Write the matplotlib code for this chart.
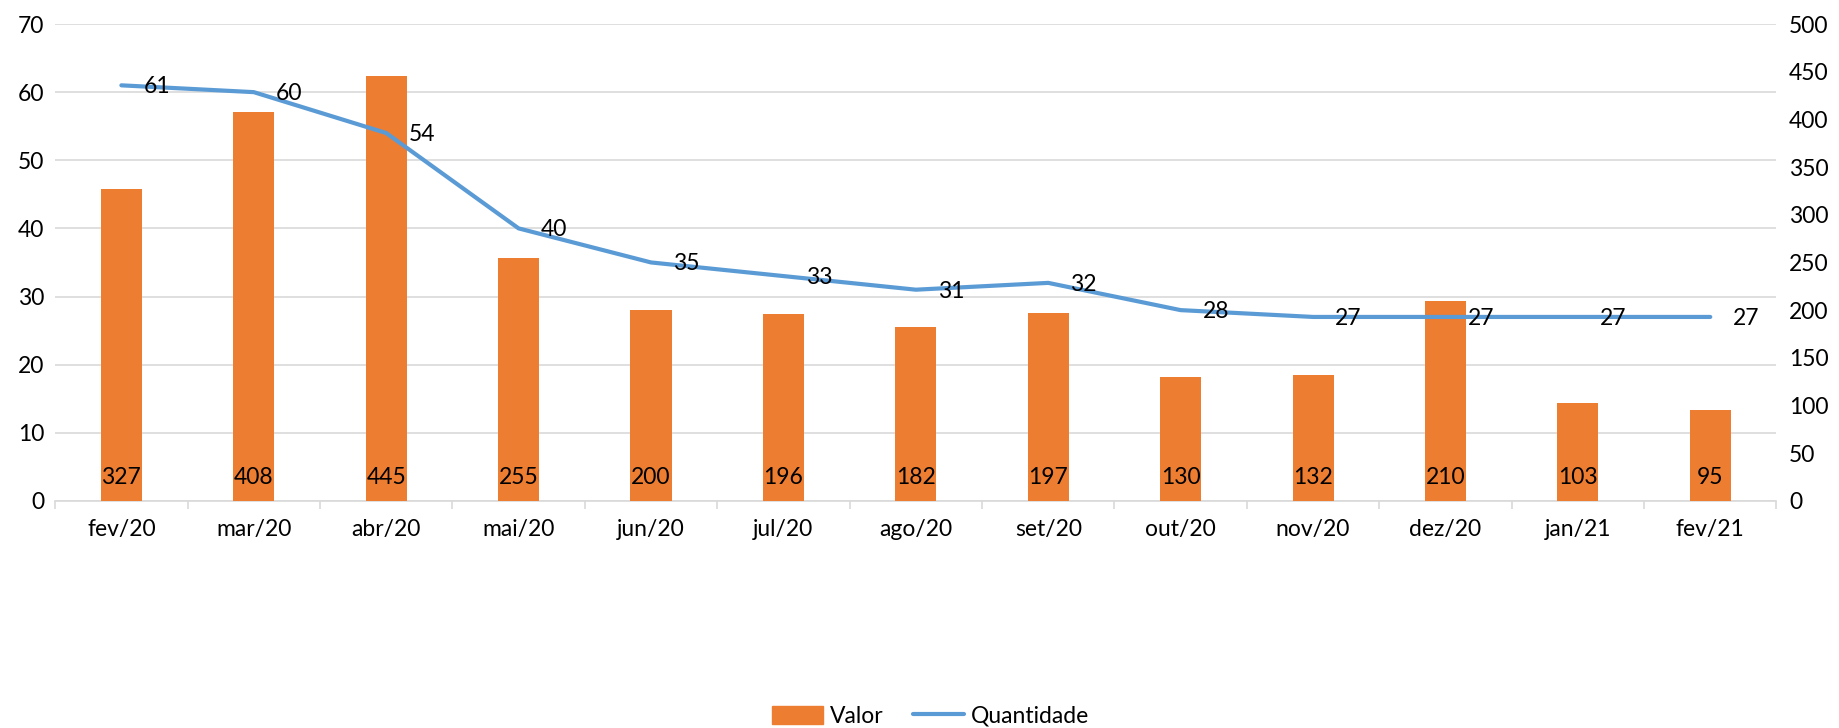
import numpy as np
import matplotlib
matplotlib.use("Agg")
import matplotlib.pyplot as plt
from matplotlib.patches import Patch
from matplotlib.lines import Line2D

plt.rcParams['font.family'] = ['Lato', 'DejaVu Sans']
plt.rcParams['font.size'] = 16.5

# dados
meses = ["fev/20", "mar/20", "abr/20", "mai/20", "jun/20", "jul/20", "ago/20",
         "set/20", "out/20", "nov/20", "dez/20", "jan/21", "fev/21"]
valor = [327, 408, 445, 255, 200, 196, 182, 197, 130, 132, 210, 103, 95]
quantidade = [61, 60, 54, 40, 35, 33, 31, 32, 28, 27, 27, 27, 27]

COR_BARRA = "#ED7D31"
COR_LINHA = "#5B9BD5"
COR_GRADE = "#D9D9D9"

fig = plt.figure(figsize=(18.39, 7.28), dpi=100)
ax = fig.add_axes([0.030, 0.312, 0.936, 0.655])
x = np.arange(len(meses))

# eixo esquerdo: grade + rótulos 0-70
ax.set_ylim(0, 70)
ax.set_yticks(range(0, 71, 10))
ax.set_xlim(-0.5, len(meses) - 0.5)
ax.grid(axis='y', color=COR_GRADE, linewidth=1.2)
ax.set_axisbelow(True)
for s in ['top', 'right', 'left']:
    ax.spines[s].set_visible(False)
ax.spines['bottom'].set_color(COR_GRADE)
ax.spines['bottom'].set_linewidth(1.2)
ax.tick_params(axis='y', length=0, pad=8)
ax.set_xticks(x)
ax.set_xticklabels(meses)
ax.tick_params(axis='x', which='major', length=0, pad=13)
ax.set_xticks(np.arange(-0.5, len(meses), 1), minor=True)
ax.tick_params(axis='x', which='minor', length=6, color=COR_GRADE, width=1.2)

# eixo direito: barras (Valor)
ax2 = ax.twinx()
ax2.set_ylim(0, 500)
ax2.set_yticks(range(0, 501, 50))
ax2.bar(x, valor, width=0.31, color=COR_BARRA, zorder=2)
for s in ax2.spines.values():
    s.set_visible(False)
ax2.tick_params(axis='y', length=0, pad=9)
for xi, v in zip(x, valor):
    ax2.annotate(str(v), (xi, 0), xytext=(0, 17), textcoords='offset points',
                 ha='center', va='center')

# linha (Quantidade) por cima das barras, na escala esquerda
ax3 = ax.twinx()
ax3.set_ylim(0, 70)
ax3.axis('off')
ax3.plot(x, quantidade, color=COR_LINHA, linewidth=3, solid_capstyle='round', zorder=3)
for xi, q in zip(x, quantidade):
    ax3.annotate(str(q), (xi, q), xytext=(16, -1), textcoords='offset points',
                 ha='left', va='center')

handles = [Patch(color=COR_BARRA, label='Valor'),
           Line2D([0], [0], color=COR_LINHA, linewidth=3, solid_capstyle='round', label='Quantidade')]
fig.legend(handles=handles, loc='center', bbox_to_anchor=(0.506, 0.016), ncol=2,
           frameon=False, handlelength=2.2, handleheight=0.8, columnspacing=1.3,
           handletextpad=0.3)

fig.savefig("out.png", dpi=100)
